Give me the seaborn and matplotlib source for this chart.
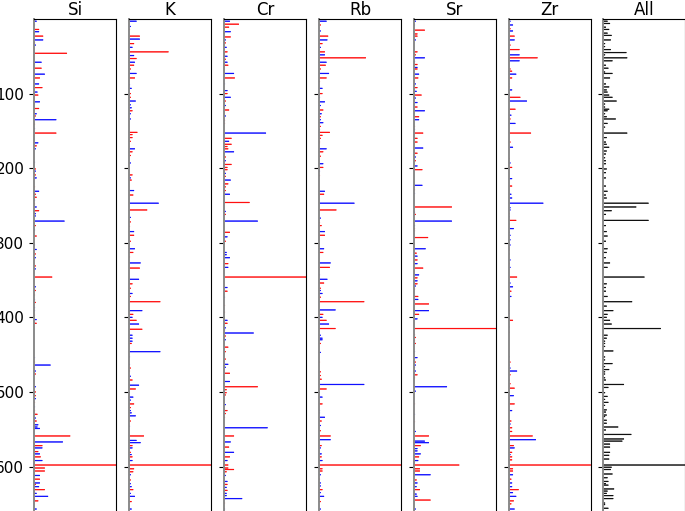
import numpy as np
import pandas as pd
import matplotlib
matplotlib.use('Agg')
import matplotlib.pyplot as plt
import seaborn as sns

# (row, value in % of panel max, group)
si = [(3, 3, 'b'), (8, 1, 'b'), (14, 6, 'r'), (17, 6, 'b'), (23, 11, 'r'), (28, 11, 'b'), (32, 1, 'r'), (35, 2, 'b'),
      (46, 40, 'r'), (58, 9, 'b'), (66, 9, 'r'), (74, 13, 'b'), (79, 7, 'r'), (87, 6, 'b'), (92, 10, 'r'), (98, 4, 'b'),
      (102, 5, 'r'), (111, 7, 'b'), (120, 6, 'r'), (127, 3, 'b'), (130, 2, 'r'), (135, 27, 'b'), (141, 1, 'r'),
      (147, 1, 'b'), (153, 27, 'r'), (166, 5, 'b'), (170, 3, 'r'), (174, 2, 'b'), (192, 1, 'b'), (201, 2, 'r'),
      (204, 2, 'b'), (209, 2, 'r'), (213, 3, 'b'), (225, 1, 'r'), (231, 6, 'b'), (235, 2, 'r'), (239, 3, 'r'),
      (243, 1, 'b'), (248, 1, 'r'), (252, 3, 'b'), (257, 6, 'r'), (261, 2, 'b'), (264, 2, 'b'), (271, 37, 'b'),
      (277, 2, 'r'), (283, 1, 'b'), (291, 3, 'r'), (303, 1, 'b'), (309, 3, 'b'), (315, 2, 'r'), (320, 2, 'b'),
      (331, 2, 'r'), (335, 2, 'b'), (346, 22, 'r'), (359, 2, 'b'), (364, 2, 'r'), (370, 1, 'r'), (376, 1, 'b'),
      (380, 2, 'r'), (387, 1, 'b'), (391, 1, 'b'), (397, 1, 'r'), (403, 3, 'b'), (408, 3, 'r'), (454, 1, 'b'),
      (460, 1, 'r'), (464, 20, 'b'), (472, 2, 'b'), (476, 2, 'r'), (493, 2, 'b'), (500, 2, 'r'), (505, 2, 'r'),
      (509, 2, 'b'), (514, 1, 'r'), (520, 1, 'b'), (525, 1, 'r'), (530, 4, 'r'), (535, 2, 'b'), (539, 3, 'r'),
      (544, 5, 'b'), (547, 4, 'b'), (549, 7, 'b'), (559, 44, 'r'), (567, 35, 'b'), (572, 10, 'r'), (575, 10, 'b'),
      (580, 5, 'r'), (583, 7, 'b'), (587, 8, 'r'), (592, 10, 'b'), (598, 100, 'r'), (602, 13, 'r'), (606, 13, 'r'),
      (612, 7, 'b'), (617, 7, 'r'), (622, 7, 'b'), (624, 2, 'r'), (627, 6, 'b'), (631, 13, 'r'), (636, 3, 'b'),
      (640, 17, 'b'), (646, 5, 'r'), (657, 3, 'b')]

k = [(3, 9, 'b'), (10, 2, 'b'), (14, 1, 'r'), (23, 13, 'r'), (27, 13, 'b'), (33, 6, 'r'), (38, 4, 'b'), (44, 48, 'r'),
     (49, 6, 'b'), (53, 9, 'r'), (58, 7, 'b'), (62, 6, 'r'), (67, 2, 'r'), (73, 9, 'b'), (79, 7, 'r'), (88, 1, 'b'),
     (93, 3, 'b'), (100, 2, 'r'), (105, 2, 'r'), (110, 8, 'b'), (115, 2, 'b'), (119, 3, 'b'), (123, 4, 'r'),
     (127, 2, 'b'), (134, 2, 'b'), (152, 10, 'r'), (155, 4, 'r'), (159, 4, 'r'), (164, 2, 'r'), (174, 7, 'b'),
     (178, 4, 'r'), (183, 2, 'r'), (193, 2, 'b'), (209, 4, 'r'), (213, 2, 'b'), (216, 3, 'r'), (230, 6, 'b'),
     (236, 5, 'r'), (247, 36, 'b'), (256, 22, 'r'), (266, 2, 'b'), (272, 2, 'r'), (278, 1, 'r'), (285, 6, 'b'),
     (290, 6, 'r'), (298, 2, 'r'), (308, 7, 'b'), (313, 5, 'r'), (319, 1, 'r'), (327, 14, 'b'), (334, 13, 'r'),
     (349, 12, 'b'), (355, 4, 'r'), (361, 2, 'r'), (368, 4, 'b'), (372, 2, 'r'), (379, 38, 'r'), (391, 16, 'b'),
     (396, 5, 'r'), (400, 4, 'b'), (404, 9, 'r'), (409, 12, 'b'), (416, 16, 'r'), (424, 4, 'b'), (428, 4, 'b'),
     (432, 4, 'b'), (435, 3, 'r'), (446, 38, 'b'), (453, 1, 'b'), (463, 1, 'b'), (468, 2, 'r'), (472, 1, 'r'),
     (479, 2, 'b'), (484, 4, 'r'), (491, 12, 'b'), (496, 8, 'r'), (507, 5, 'b'), (511, 2, 'b'), (516, 6, 'r'),
     (521, 2, 'r'), (525, 2, 'b'), (528, 3, 'b'), (532, 8, 'b'), (539, 2, 'r'), (546, 1, 'b'), (559, 18, 'r'),
     (565, 9, 'b'), (568, 14, 'b'), (572, 4, 'r'), (575, 4, 'b'), (581, 2, 'r'), (584, 3, 'b'), (587, 4, 'r'),
     (592, 4, 'b'), (598, 100, 'r'), (603, 6, 'r'), (607, 5, 'r'), (611, 2, 'b'), (618, 2, 'r'), (623, 2, 'b'),
     (627, 3, 'b'), (631, 5, 'r'), (636, 2, 'b'), (640, 7, 'b'), (647, 3, 'r'), (657, 3, 'b')]

cr = [(3, 7, 'b'), (7, 18, 'r'), (11, 6, 'r'), (17, 8, 'b'), (24, 8, 'r'), (28, 2, 'b'), (32, 2, 'r'), (38, 3, 'b'),
      (44, 4, 'r'), (50, 4, 'b'), (54, 2, 'r'), (58, 4, 'b'), (62, 5, 'r'), (73, 12, 'b'), (79, 13, 'r'), (87, 1, 'b'),
      (96, 4, 'b'), (100, 4, 'r'), (105, 8, 'b'), (110, 2, 'r'), (116, 2, 'b'), (122, 6, 'r'), (130, 2, 'b'),
      (136, 1, 'r'), (140, 1, 'r'), (153, 51, 'b'), (160, 9, 'r'), (164, 6, 'b'), (168, 9, 'r'), (171, 4, 'r'),
      (174, 5, 'r'), (178, 12, 'b'), (185, 2, 'r'), (190, 2, 'b'), (195, 9, 'r'), (199, 4, 'r'), (202, 4, 'r'),
      (207, 2, 'b'), (211, 2, 'r'), (216, 8, 'b'), (221, 5, 'r'), (225, 2, 'r'), (230, 2, 'r'), (235, 7, 'b'),
      (246, 31, 'r'), (258, 2, 'b'), (262, 2, 'r'), (271, 41, 'b'), (286, 7, 'r'), (292, 4, 'b'), (298, 2, 'r'),
      (313, 3, 'b'), (316, 3, 'b'), (320, 7, 'b'), (328, 5, 'r'), (333, 5, 'b'), (346, 100, 'r'), (360, 4, 'b'),
      (365, 4, 'r'), (373, 1, 'b'), (384, 1, 'r'), (393, 1, 'r'), (404, 4, 'b'), (408, 4, 'r'), (414, 2, 'b'),
      (417, 1, 'b'), (421, 36, 'b'), (425, 2, 'r'), (430, 2, 'b'), (440, 5, 'r'), (446, 2, 'r'), (456, 2, 'r'),
      (463, 5, 'b'), (467, 2, 'b'), (475, 7, 'r'), (486, 7, 'b'), (493, 41, 'r'), (497, 3, 'r'), (501, 3, 'r'),
      (504, 2, 'r'), (517, 2, 'b'), (525, 4, 'r'), (529, 2, 'r'), (534, 1, 'r'), (548, 53, 'b'), (559, 12, 'r'),
      (567, 8, 'b'), (574, 6, 'r'), (581, 12, 'b'), (587, 7, 'r'), (592, 4, 'b'), (598, 5, 'r'), (602, 5, 'r'),
      (604, 12, 'r'), (607, 3, 'r'), (612, 2, 'b'), (620, 4, 'b'), (624, 4, 'r'), (628, 3, 'b'), (632, 4, 'r'),
      (636, 3, 'b'), (639, 3, 'b'), (643, 22, 'b'), (649, 1, 'r'), (657, 1, 'b')]

rb = [(3, 9, 'b'), (8, 2, 'r'), (16, 2, 'b'), (23, 11, 'r'), (28, 10, 'b'), (33, 4, 'r'), (38, 2, 'b'), (44, 7, 'r'),
      (48, 7, 'b'), (52, 57, 'r'), (58, 9, 'b'), (62, 8, 'r'), (67, 2, 'r'), (73, 12, 'b'), (79, 9, 'r'), (84, 1, 'r'),
      (93, 4, 'b'), (100, 4, 'r'), (105, 1, 'b'), (111, 7, 'b'), (116, 2, 'b'), (122, 5, 'r'), (127, 3, 'b'),
      (131, 2, 'r'), (135, 2, 'b'), (139, 5, 'b'), (144, 2, 'r'), (148, 1, 'b'), (152, 13, 'r'), (156, 4, 'r'),
      (160, 2, 'r'), (164, 1, 'r'), (166, 1, 'r'), (174, 9, 'b'), (178, 5, 'r'), (184, 2, 'r'), (194, 5, 'b'),
      (199, 5, 'r'), (204, 1, 'b'), (210, 1, 'r'), (231, 7, 'b'), (235, 6, 'r'), (247, 43, 'b'), (256, 21, 'r'),
      (267, 2, 'b'), (273, 1, 'r'), (277, 3, 'r'), (285, 7, 'b'), (290, 7, 'r'), (308, 6, 'b'), (313, 5, 'r'),
      (327, 14, 'b'), (333, 13, 'r'), (343, 1, 'b'), (349, 10, 'b'), (354, 6, 'r'), (361, 2, 'r'), (364, 2, 'b'),
      (368, 4, 'b'), (373, 2, 'r'), (379, 55, 'r'), (390, 20, 'b'), (396, 5, 'r'), (400, 4, 'b'), (404, 9, 'r'),
      (409, 12, 'b'), (415, 20, 'r'), (424, 2, 'b'), (428, 4, 'b'), (430, 4, 'b'), (435, 2, 'r'), (447, 2, 'b'),
      (460, 1, 'r'), (473, 2, 'r'), (478, 2, 'r'), (483, 3, 'r'), (490, 55, 'b'), (496, 9, 'r'), (507, 4, 'b'),
      (516, 4, 'r'), (525, 1, 'b'), (528, 1, 'b'), (534, 7, 'b'), (539, 3, 'r'), (545, 2, 'b'), (552, 2, 'r'),
      (559, 14, 'r'), (564, 14, 'b'), (572, 3, 'r'), (575, 2, 'b'), (583, 3, 'b'), (587, 3, 'r'), (592, 4, 'b'),
      (598, 100, 'r'), (603, 4, 'r'), (606, 4, 'r'), (611, 2, 'b'), (617, 1, 'r'), (622, 2, 'b'), (626, 2, 'b'),
      (631, 4, 'r'), (635, 2, 'b'), (640, 6, 'b'), (647, 2, 'r'), (657, 2, 'b')]

sr = [(3, 2, 'b'), (8, 1, 'b'), (15, 13, 'r'), (20, 4, 'r'), (23, 4, 'r'), (28, 2, 'b'), (44, 4, 'r'), (48, 2, 'r'),
      (52, 13, 'b'), (57, 1, 'b'), (61, 4, 'r'), (65, 4, 'b'), (67, 4, 'r'), (74, 6, 'b'), (79, 5, 'r'), (87, 2, 'b'),
      (92, 4, 'r'), (97, 3, 'b'), (102, 9, 'r'), (106, 2, 'b'), (112, 4, 'b'), (118, 4, 'r'), (123, 13, 'b'),
      (131, 6, 'r'), (135, 6, 'b'), (144, 1, 'r'), (148, 1, 'b'), (153, 11, 'r'), (160, 4, 'r'), (165, 4, 'r'),
      (173, 11, 'b'), (180, 4, 'r'), (185, 2, 'b'), (190, 2, 'r'), (197, 4, 'b'), (202, 10, 'r'), (223, 10, 'b'),
      (229, 1, 'r'), (234, 1, 'b'), (252, 46, 'r'), (259, 1, 'b'), (262, 2, 'r'), (271, 46, 'b'), (277, 1, 'b'),
      (281, 1, 'r'), (284, 1, 'r'), (293, 17, 'r'), (308, 14, 'b'), (314, 3, 'r'), (318, 4, 'b'), (323, 4, 'r'),
      (328, 4, 'b'), (334, 11, 'r'), (343, 6, 'b'), (347, 4, 'r'), (351, 4, 'b'), (355, 4, 'r'), (358, 2, 'b'),
      (362, 1, 'r'), (372, 5, 'r'), (376, 5, 'b'), (382, 18, 'r'), (391, 18, 'b'), (396, 6, 'r'), (402, 4, 'b'),
      (415, 100, 'r'), (423, 1, 'r'), (427, 2, 'r'), (431, 1, 'r'), (435, 2, 'r'), (446, 1, 'b'), (454, 4, 'b'),
      (460, 2, 'r'), (464, 2, 'b'), (467, 1, 'b'), (472, 2, 'b'), (477, 4, 'r'), (481, 1, 'r'), (493, 40, 'b'),
      (499, 2, 'b'), (516, 1, 'r'), (530, 1, 'b'), (540, 1, 'r'), (553, 2, 'b'), (559, 18, 'r'), (566, 13, 'b'),
      (568, 18, 'b'), (572, 8, 'r'), (576, 4, 'b'), (579, 4, 'b'), (583, 8, 'b'), (587, 6, 'r'), (592, 5, 'b'),
      (598, 55, 'r'), (603, 7, 'r'), (606, 7, 'r'), (611, 20, 'b'), (618, 3, 'r'), (622, 4, 'b'), (627, 3, 'b'),
      (631, 7, 'r'), (637, 3, 'b'), (640, 4, 'b'), (645, 20, 'r'), (657, 2, 'b')]

zr = [(3, 2, 'b'), (8, 5, 'b'), (13, 2, 'r'), (16, 5, 'b'), (23, 7, 'r'), (28, 7, 'b'), (35, 2, 'r'), (41, 13, 'r'),
      (48, 13, 'b'), (52, 35, 'r'), (56, 13, 'b'), (67, 2, 'r'), (70, 4, 'r'), (74, 9, 'b'), (79, 4, 'r'), (87, 1, 'b'),
      (91, 1, 'r'), (95, 4, 'b'), (105, 14, 'r'), (110, 22, 'b'), (121, 8, 'r'), (129, 3, 'b'), (134, 2, 'r'),
      (140, 8, 'b'), (153, 27, 'r'), (165, 2, 'r'), (172, 5, 'b'), (187, 1, 'r'), (193, 2, 'b'), (199, 4, 'r'),
      (214, 4, 'b'), (224, 4, 'r'), (235, 3, 'b'), (240, 4, 'b'), (247, 42, 'b'), (253, 2, 'b'), (256, 2, 'b'),
      (261, 1, 'r'), (265, 1, 'b'), (270, 9, 'r'), (275, 1, 'r'), (281, 6, 'b'), (286, 1, 'b'), (290, 2, 'b'),
      (296, 2, 'b'), (303, 2, 'b'), (310, 1, 'r'), (315, 1, 'r'), (323, 2, 'b'), (328, 1, 'r'), (333, 2, 'b'),
      (346, 10, 'r'), (354, 2, 'b'), (359, 5, 'b'), (365, 3, 'r'), (372, 3, 'b'), (378, 1, 'r'), (391, 1, 'r'),
      (395, 1, 'b'), (404, 5, 'r'), (413, 1, 'b'), (420, 1, 'r'), (453, 1, 'b'), (460, 2, 'r'), (464, 1, 'b'),
      (468, 2, 'b'), (472, 10, 'b'), (477, 2, 'r'), (484, 1, 'r'), (489, 2, 'r'), (492, 1, 'r'), (495, 7, 'r'),
      (505, 6, 'b'), (510, 1, 'b'), (516, 7, 'r'), (525, 4, 'b'), (539, 3, 'r'), (543, 2, 'b'), (548, 4, 'r'),
      (553, 4, 'r'), (559, 29, 'r'), (564, 33, 'b'), (572, 6, 'r'), (575, 7, 'b'), (581, 4, 'r'), (584, 2, 'b'),
      (587, 4, 'r'), (591, 4, 'r'), (598, 100, 'r'), (603, 5, 'r'), (606, 5, 'r'), (611, 5, 'b'), (617, 3, 'r'),
      (622, 4, 'b'), (627, 4, 'b'), (631, 12, 'r'), (635, 5, 'b'), (640, 9, 'b'), (646, 6, 'r'), (650, 3, 'r'),
      (654, 1, 'r'), (657, 7, 'b')]

all_rows = [(3, 5), (6, 8), (11, 3), (14, 7), (19, 5), (22, 10), (28, 9), (33, 2), (37, 2), (41, 9), (45, 28),
            (48, 2), (52, 29), (56, 11), (62, 3), (66, 6), (71, 2), (73, 11), (79, 8), (87, 3), (91, 7), (95, 4),
            (98, 5), (102, 7), (105, 11), (110, 16), (114, 2), (118, 2), (121, 7), (123, 5), (127, 2), (131, 4),
            (134, 15), (140, 5), (145, 2), (153, 29), (159, 4), (165, 3), (168, 4), (172, 7), (177, 4), (181, 3),
            (186, 2), (190, 3), (194, 3), (201, 4), (206, 3), (213, 3), (224, 3), (231, 5), (236, 3), (240, 4),
            (247, 55), (252, 40), (257, 10), (262, 3), (270, 55), (277, 3), (285, 4), (291, 5), (298, 3), (308, 5),
            (313, 4), (320, 3), (327, 8), (333, 5), (346, 50), (355, 4), (360, 3), (365, 3), (372, 5), (379, 35),
            (385, 4), (391, 12), (396, 5), (400, 4), (404, 8), (409, 10), (415, 70), (424, 5), (428, 4), (432, 2),
            (435, 2), (439, 2), (445, 12), (453, 2), (457, 2), (462, 11), (466, 2), (470, 7), (473, 2), (476, 2),
            (481, 2), (484, 3), (490, 25), (494, 6), (501, 2), (506, 5), (510, 2), (514, 6), (518, 2), (524, 4),
            (527, 3), (531, 4), (533, 2), (538, 4), (542, 4), (547, 18), (551, 3), (557, 34), (563, 25), (566, 23),
            (570, 8), (574, 8), (581, 8), (585, 7), (590, 7), (598, 100), (601, 10), (604, 9), (610, 11), (615, 5),
            (620, 6), (623, 3), (625, 6), (630, 13), (633, 5), (636, 4), (639, 12), (643, 12), (649, 2), (651, 2),
            (656, 6)]

titles = ['Si', 'K', 'Cr', 'Rb', 'Sr', 'Zr', 'All']
panels = [si, k, cr, rb, sr, zr, all_rows]
palette = {'r': '#ff0000', 'b': '#0000ff'}
yticks = [100, 200, 300, 400, 500, 600]

fig = plt.figure(figsize=(6.85, 5.11), dpi=100)
W, H = 685.0, 511.0
lefts = [34, 129, 224, 319, 414, 508.7, 603.3]
top_px, bottom_px = 19, 515

for i, (title, data) in enumerate(zip(titles, panels)):
    ax = fig.add_axes([lefts[i] / W, (H - bottom_px) / H, 82 / W, (bottom_px - top_px) / H])
    if title == 'All':
        df = pd.DataFrame(data, columns=['row', 'value'])
    else:
        df = pd.DataFrame(data, columns=['row', 'value', 'group'])
    # bar thickness of ~1 row whatever the spacing of the rows in this panel
    step = np.diff(np.sort(df['row'].unique())).min()
    kw = dict(data=df, x='value', y='row', orient='y', native_scale=True,
              width=1.0 / step, saturation=1, errorbar=None, ax=ax)
    if title == 'All':
        sns.barplot(color='black', **kw)
    else:
        sns.barplot(hue='group', palette=palette, legend=False, **kw)
    for p in ax.patches:
        p.set_edgecolor(p.get_facecolor())
        p.set_linewidth(0.35)
        p.set_snap(False)
    ax.set_xlim(0, 100)
    ax.set_ylim(665, 0)
    ax.set_xticks([])
    ax.set_yticks(yticks)
    if i > 0:
        ax.set_yticklabels([])
    ax.tick_params(axis='y', labelsize=11)
    ax.spines['left'].set_color('#8a8a8a')
    ax.spines['left'].set_linewidth(1.4)
    ax.set_xlabel('')
    ax.set_ylabel('')
    ax.set_title(title, fontsize=12, pad=3)

fig.savefig('out.png', dpi=100)
